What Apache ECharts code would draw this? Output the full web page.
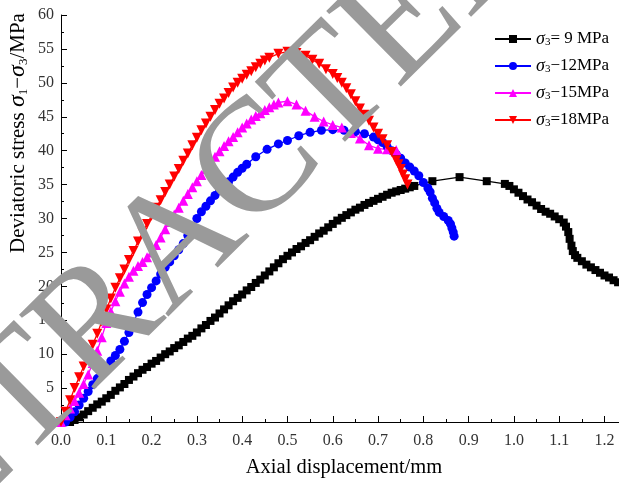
<!DOCTYPE html>
<html>
<head>
<meta charset="utf-8">
<script src="https://cdn.jsdelivr.net/npm/echarts@6/dist/echarts.min.js"></script>
<style>html,body{margin:0;padding:0;background:#fff}#c{width:619px;height:483px}</style>
</head>
<body>
<div id="c"></div>
<script>
// ---- data (x: axial displacement mm, y: deviatoric stress MPa) ----
const seriesNames = ['s9', 's12', 's15', 's18'];
const legendLabels = ['{s|σ}{sub|3}{t|= 9 MPa}', '{s|σ}{sub|3}{t|−12MPa}', '{s|σ}{sub|3}{t|−15MPa}', '{s|σ}{sub|3}{t|=18MPa}'];
const xTicks = [0, 0.1, 0.2, 0.3, 0.4, 0.5, 0.6, 0.7, 0.8, 0.9, 1.0, 1.1, 1.2];
const yTicks = [0, 5, 10, 15, 20, 25, 30, 35, 40, 45, 50, 55, 60];

const s9 = [[0.02,0],[0.03,0.3],[0.04,0.7],[0.05,1.1],[0.06,1.6],[0.07,2.1],[0.08,2.6],[0.09,3.0],[0.10,3.5],[0.11,4.0],[0.12,4.6],[0.13,5.1],[0.14,5.6],[0.15,6.2],[0.16,6.7],[0.17,7.2],[0.18,7.7],[0.19,8.1],[0.20,8.6],[0.21,9.0],[0.22,9.5],[0.23,10.0],[0.24,10.4],[0.25,10.9],[0.26,11.3],[0.27,11.8],[0.28,12.3],[0.29,12.7],[0.30,13.2],[0.31,13.8],[0.32,14.3],[0.33,14.9],[0.34,15.4],[0.35,16.0],[0.36,16.6],[0.37,17.2],[0.38,17.8],[0.39,18.3],[0.40,18.8],[0.41,19.4],[0.42,19.9],[0.43,20.5],[0.44,21.0],[0.45,21.6],[0.46,22.2],[0.47,22.8],[0.48,23.4],[0.49,24.0],[0.50,24.5],[0.51,25.0],[0.52,25.5],[0.53,25.9],[0.54,26.4],[0.55,26.8],[0.56,27.3],[0.57,27.8],[0.58,28.2],[0.59,28.7],[0.60,29.2],[0.61,29.7],[0.62,30.1],[0.63,30.5],[0.64,30.9],[0.65,31.3],[0.66,31.6],[0.67,32.0],[0.68,32.3],[0.69,32.6],[0.70,32.9],[0.71,33.2],[0.72,33.5],[0.73,33.8],[0.74,34.0],[0.75,34.2],[0.76,34.4],[0.77,34.6],[0.78,34.8],[0.82,35.5],[0.88,36.1],[0.94,35.5],[0.98,35.1],[0.99,34.8],[1.00,34.3],[1.01,33.8],[1.02,33.3],[1.03,32.8],[1.04,32.4],[1.05,31.9],[1.06,31.4],[1.07,31.0],[1.08,30.7],[1.09,30.3],[1.10,29.9],[1.11,29.4],[1.115,28.8],[1.12,28.0],[1.123,27.0],[1.127,26.0],[1.13,25.2],[1.135,24.6],[1.14,24.2],[1.15,23.7],[1.16,23.2],[1.17,22.8],[1.18,22.4],[1.19,22.0],[1.20,21.6],[1.21,21.3],[1.22,20.9],[1.23,20.6]];

const s12 = [[0.01,0],[0.02,0.7],[0.03,1.5],[0.04,2.5],[0.05,3.5],[0.06,4.5],[0.07,5.5],[0.08,6.4],[0.09,7.3],[0.10,8.1],[0.11,9.0],[0.12,9.8],[0.13,10.7],[0.14,11.9],[0.15,13.2],[0.16,14.7],[0.17,16.2],[0.18,17.6],[0.19,18.8],[0.20,19.8],[0.21,20.8],[0.22,21.8],[0.23,22.8],[0.24,23.6],[0.25,24.5],[0.26,25.4],[0.27,26.3],[0.28,27.5],[0.29,28.8],[0.30,30.0],[0.31,31.0],[0.32,31.8],[0.33,32.6],[0.34,33.4],[0.35,34.1],[0.36,34.8],[0.37,35.4],[0.38,36.1],[0.39,36.8],[0.40,37.4],[0.41,38.0],[0.43,39.1],[0.455,40.2],[0.48,41.0],[0.50,41.5],[0.525,42.2],[0.55,42.7],[0.575,43.0],[0.60,43.1],[0.625,43.0],[0.65,42.8],[0.67,42.5],[0.69,42.0],[0.70,41.6],[0.71,41.2],[0.72,40.6],[0.73,40.0],[0.74,39.5],[0.75,38.9],[0.76,38.2],[0.77,37.6],[0.78,37.0],[0.79,36.3],[0.80,35.3],[0.81,34.5],[0.815,33.9],[0.82,33.0],[0.825,32.3],[0.83,31.5],[0.835,30.9],[0.845,30.3],[0.855,29.7],[0.86,29.2],[0.863,28.6],[0.866,28.0],[0.868,27.4]];

const s15 = [[0.00,0],[0.01,1.0],[0.02,2.0],[0.03,3.1],[0.04,4.3],[0.05,5.6],[0.06,7.0],[0.07,8.7],[0.08,10.5],[0.09,12.5],[0.10,14.6],[0.11,16.3],[0.12,17.8],[0.13,19.2],[0.14,20.4],[0.15,21.4],[0.16,22.3],[0.17,23.0],[0.18,23.6],[0.19,24.3],[0.20,25.0],[0.21,26.1],[0.22,27.2],[0.23,28.4],[0.24,29.5],[0.25,30.6],[0.26,31.6],[0.27,32.6],[0.28,33.6],[0.29,34.6],[0.30,35.5],[0.31,36.4],[0.32,37.3],[0.33,38.2],[0.34,39.1],[0.35,39.9],[0.36,40.7],[0.37,41.4],[0.38,42.0],[0.39,42.7],[0.40,43.4],[0.41,44.0],[0.42,44.6],[0.43,45.1],[0.44,45.5],[0.45,46.0],[0.46,46.4],[0.47,46.8],[0.48,47.1],[0.50,47.3],[0.52,46.8],[0.54,45.9],[0.56,45.0],[0.58,44.3],[0.60,43.8],[0.62,43.4],[0.64,42.6],[0.66,41.8],[0.68,40.8],[0.70,40.3],[0.72,40.2],[0.74,40.1]];

const s18 = [[0.00,0],[0.01,1.5],[0.02,3.2],[0.03,5.0],[0.04,6.6],[0.05,8.2],[0.06,9.8],[0.07,11.4],[0.08,13.0],[0.09,14.8],[0.10,16.6],[0.11,18.2],[0.12,19.8],[0.13,21.2],[0.14,22.5],[0.15,23.9],[0.16,25.2],[0.17,26.6],[0.18,27.9],[0.19,29.2],[0.20,30.4],[0.21,31.6],[0.22,32.7],[0.23,33.9],[0.24,35.0],[0.25,36.2],[0.26,37.3],[0.27,38.5],[0.28,39.6],[0.29,40.8],[0.30,41.9],[0.31,43.0],[0.32,44.0],[0.33,45.0],[0.34,46.0],[0.35,46.9],[0.36,47.7],[0.37,48.5],[0.38,49.3],[0.39,50.0],[0.40,50.6],[0.41,51.2],[0.42,51.7],[0.43,52.3],[0.44,52.8],[0.45,53.3],[0.46,53.7],[0.48,54.3],[0.50,54.6],[0.52,54.4],[0.54,54.0],[0.555,53.4],[0.57,52.8],[0.585,52.0],[0.60,51.3],[0.61,50.7],[0.62,50.0],[0.63,49.2],[0.64,48.3],[0.65,47.3],[0.66,46.2],[0.67,45.3],[0.68,44.4],[0.69,43.4],[0.70,42.5],[0.71,41.7],[0.72,40.8],[0.73,39.8],[0.74,38.6],[0.745,38.0],[0.75,37.3],[0.755,36.5],[0.76,35.8],[0.765,35.0]];

const watermark = 'RETRACTED';
const xTitle = 'Axial displacement/mm';

// ---- chart ----
const serif = '"Liberation Serif","Times New Roman",serif';
const chart = echarts.init(document.getElementById('c'), null, {renderer: 'canvas'});
const richLegend = {
  s: {fontFamily: serif, fontStyle: 'italic', fontSize: 18, color: '#000'},
  sub: {fontFamily: serif, fontSize: 11, color: '#000', verticalAlign: 'bottom', padding: [7, 0, 0, 0]},
  t: {fontFamily: serif, fontSize: 17, color: '#000'}
};
const labelMap = {};
seriesNames.forEach((n, i) => labelMap[n] = legendLabels[i]);

function mk(name, data, color, symbol, size, rotate) {
  return {
    name, type: 'line', data, symbol, symbolSize: size, symbolRotate: rotate || 0,
    lineStyle: {color, width: 1.3}, itemStyle: {color},
    showSymbol: true, animation: false
  };
}

chart.setOption({
  animation: false,
  backgroundColor: '#fff',
  grid: {left: 61, right: 0, top: 15, bottom: 59, containLabel: false},
  legend: {
    orient: 'vertical', left: 494, top: 30, padding: 0, itemWidth: 36, itemHeight: 10, itemGap: 9,
    data: seriesNames,
    formatter: n => labelMap[n],
    textStyle: {rich: richLegend, fontFamily: serif, fontSize: 17}
  },
  xAxis: {
    type: 'value', min: 0, max: 1.232, interval: 0.1,
    name: xTitle, nameLocation: 'middle', nameGap: 35,
    nameTextStyle: {fontFamily: serif, fontSize: 20.5, color: '#000', padding: [0, 0, 0, 8]},
    axisLine: {show: true, lineStyle: {color: '#000', width: 1}},
    axisTick: {show: true, inside: true, length: 6, lineStyle: {color: '#000'}},
    minorTick: {show: true, splitNumber: 2, length: 3, lineStyle: {color: '#000'}},
    axisLabel: {fontFamily: serif, fontSize: 16, color: '#333', margin: 11, showMaxLabel: false,
      formatter: v => { const t = xTicks.find(k => Math.abs(k - v) < 1e-6); return t === undefined ? '' : t.toFixed(1); }},
    splitLine: {show: false}
  },
  yAxis: {
    type: 'value', min: 0, max: 60, interval: 5,
    axisLine: {show: true, lineStyle: {color: '#000', width: 1}},
    axisTick: {show: true, inside: true, length: 6, lineStyle: {color: '#000'}},
    minorTick: {show: true, splitNumber: 2, length: 3, lineStyle: {color: '#000'}},
    axisLabel: {fontFamily: serif, fontSize: 16, color: '#333', margin: 7,
      formatter: v => { const t = yTicks.find(k => Math.abs(k - v) < 1e-6); return t === undefined ? '' : String(t); }},
    splitLine: {show: false}
  },
  series: [
    mk('s9', s9, '#000000', 'rect', 8),
    mk('s12', s12, '#0000ff', 'circle', 9),
    mk('s15', s15, '#ff00ff', 'triangle', 10),
    mk('s18', s18, '#ff0000', 'triangle', 10, 180)
  ],
  graphic: [
    {
      type: 'text', x: 18, y: 133, rotation: Math.PI / 2, z: 100,
      style: {
        text: '{t|Deviatoric stress }{s|σ}{sub|1}{t|−}{s|σ}{sub|3}{t|/MPa}',
        textAlign: 'center', textVerticalAlign: 'middle',
        rich: {
          t: {fontFamily: serif, fontSize: 21, fill: '#000'},
          s: {fontFamily: serif, fontSize: 24, fontStyle: 'italic', fill: '#000'},
          sub: {fontFamily: serif, fontSize: 13, fill: '#000', verticalAlign: 'bottom', padding: [9, 0, 0, 0]}
        }
      }
    },
    {
      type: 'text', x: 182, y: 243, rotation: 0.78, z: 200, silent: true,
      style: {
        text: watermark, fontFamily: serif, fontSize: 162, fill: '#9a9a9a',
        textAlign: 'center', textVerticalAlign: 'middle'
      }
    }
  ]
});
</script>
</body>
</html>
